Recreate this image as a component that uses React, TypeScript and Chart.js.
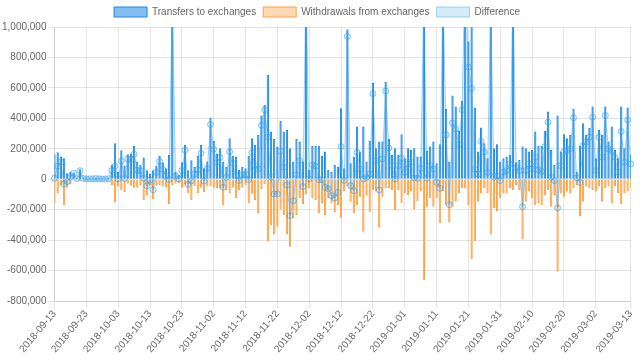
import React, { useEffect, useRef } from 'react';
import { Chart, registerables } from 'chart.js';

Chart.register(...registerables);

const START_DATE = '2018-09-13';
const DAY_COUNT = 182;
const LABEL_INDEXES = [0, 10, 20, 30, 40, 50, 60, 70, 80, 90, 100, 110, 120, 130, 140, 150, 160, 170, 181];

const transfers = [
  165000, 178000, 150000, 138000, 40000, 50000, 45000, 12000, 66000, 10000,
  6000, 8000, 5000, 9000, 6000, 7000, 5000, 8000, 95000, 237000,
  50000, 190000, 90000, 165000, 170000, 220000, 116000, 95000, 143000, 60000,
  35000, 60000, 90000, 155000, 110000, 73000, 160000, 1250000, 50000, 30000,
  112000, 226000, 60000, 125000, 80000, 155000, 226000, 73000, 116000, 405000,
  252000, 170000, 204000, 116000, 83000, 270000, 155000, 149000, 62000, 83000,
  72000, 155000, 270000, 226000, 292000, 419000, 489000, 686000, 314000, 265000,
  215000, 384000, 314000, 325000, 204000, 116000, 265000, 248000, 116000, 1400000,
  62000, 221000, 221000, 221000, 155000, 182000, 62000, 50000, 94000, 83000,
  467000, 72000, 985000, 105000, 149000, 346000, 182000, 346000, 116000, 252000,
  632000, 204000, 248000, 248000, 638000, 265000, 160000, 204000, 160000, 296000,
  138000, 204000, 193000, 204000, 149000, 149000, 1800000, 186000, 215000, 248000,
  105000, 230000, 1300000, 463000, 116000, 550000, 478000, 320000, 515000, 1500000,
  905000, 1120000, 471000, 182000, 340000, 237000, 138000, 1500000, 204000, 230000,
  116000, 138000, 149000, 160000, 1300000, 112000, 127000, 215000, 204000, 182000,
  193000, 314000, 221000, 221000, 318000, 445000, 193000, 94000, 419000, 182000,
  296000, 270000, 292000, 463000, 50000, 220000, 368000, 292000, 336000, 478000,
  138000, 325000, 292000, 478000, 248000, 346000, 193000, 138000, 478000, 204000,
  471000, 160000,
];

const withdrawals = [
  -158000, -92000, -37000, -169000, -55000, -35000, -5000, -8000, -10000, -4000,
  -3000, -5000, -2000, -4000, -3000, -5000, -3000, -4000, -37000, -151000,
  -48000, -70000, -85000, -30000, -42000, -55000, -55000, -40000, -136000, -103000,
  -40000, -129000, -45000, -38000, -45000, -52000, -162000, -38000, -30000, -28000,
  -55000, -35000, -92000, -136000, -45000, -92000, -55000, -85000, -45000, -45000,
  -55000, -60000, -60000, -169000, -70000, -90000, -50000, -125000, -70000, -55000,
  -40000, -158000, -95000, -136000, -224000, -65000, -33000, -410000, -300000, -362000,
  -311000, -200000, -235000, -362000, -443000, -257000, -235000, -125000, -164000, -100000,
  -60000, -125000, -136000, -224000, -158000, -235000, -125000, -158000, -217000, -169000,
  -252000, -80000, -46000, -147000, -224000, -169000, -114000, -344000, -103000, -217000,
  -70000, -81000, -318000, -114000, -59000, -59000, -70000, -202000, -70000, -158000,
  -92000, -103000, -81000, -195000, -143000, -77000, -663000, -180000, -125000, -180000,
  -125000, -289000, -81000, -171000, -283000, -180000, -147000, -92000, -59000, -59000,
  -169000, -524000, -406000, -147000, -92000, -59000, -92000, -360000, -190000, -208000,
  -125000, -92000, -92000, -59000, -70000, -37000, -70000, -395000, -147000, -81000,
  -125000, -169000, -158000, -169000, -103000, -70000, -180000, -103000, -607000, -92000,
  -114000, -81000, -92000, -59000, -40000, -241000, -147000, -48000, -59000, -70000,
  -81000, -48000, -147000, -59000, -48000, -158000, -48000, -92000, -164000, -92000,
  -81000, -59000,
];

const Y_MIN = -800000;
const Y_MAX = 1000000;
const Y_STEP = 200000;

function makeDateLabels(start: string, count: number): string[] {
  const out: string[] = [];
  const base = new Date(start + 'T00:00:00Z').getTime();
  for (let i = 0; i < count; i++) {
    out.push(new Date(base + i * 86400000).toISOString().slice(0, 10));
  }
  return out;
}

const FONT = "'Liberation Sans', Arial, sans-serif";
const LEGEND_FILLS = ['rgba(30,136,229,0.55)', 'rgba(255,159,64,0.4)', 'rgba(54,162,235,0.2)'];

export default function App() {
  const ref = useRef<HTMLCanvasElement | null>(null);

  useEffect(() => {
    document.body.style.margin = '0';
    const labels = makeDateLabels(START_DATE, DAY_COUNT);
    const difference = transfers.map((t, i) => t + withdrawals[i]);
    const shown = (i: number) => LABEL_INDEXES.includes(i);

    Chart.defaults.font.family = FONT;
    Chart.defaults.font.size = 10;
    Chart.defaults.color = '#666';

    const chart = new Chart(ref.current as HTMLCanvasElement, {
      type: 'bar',
      data: {
        labels,
        datasets: [
          {
            type: 'bar',
            label: 'Transfers to exchanges',
            data: transfers,
            backgroundColor: 'rgba(30,136,229,0.9)',
            borderColor: 'rgb(30,136,229)',
            borderWidth: 1,
            grouped: false,
            barPercentage: 0.9,
            categoryPercentage: 0.8,
            order: 1,
          },
          {
            type: 'bar',
            label: 'Withdrawals from exchanges',
            data: withdrawals,
            backgroundColor: 'rgba(255,159,64,0.9)',
            borderColor: 'rgb(255,159,64)',
            borderWidth: 1,
            grouped: false,
            barPercentage: 0.9,
            categoryPercentage: 0.8,
            order: 1,
          },
          {
            type: 'line',
            label: 'Difference',
            data: difference,
            backgroundColor: 'rgba(54,162,235,0.15)',
            borderColor: 'rgba(54,162,235,0.45)',
            borderWidth: 1,
            pointRadius: 3,
            pointBorderWidth: 1,
            pointBorderColor: 'rgba(54,162,235,0.6)',
            pointBackgroundColor: 'rgba(54,162,235,0.15)',
            fill: 'origin',
            tension: 0,
            order: 0,
          },
        ],
      },
      options: {
        responsive: false,
        animation: false,
        devicePixelRatio: 1,
        layout: { padding: { left: 0, right: 6, top: 0, bottom: 6 } },
        plugins: {
          legend: {
            position: 'top',
            labels: {
              boxWidth: 33,
              boxHeight: 10,
              padding: 7,
              font: { size: 10, family: FONT },
              color: '#666',
              sort: (a: any, b: any) => a.datasetIndex - b.datasetIndex,
              generateLabels: (c: any) => {
                const items = Chart.defaults.plugins.legend.labels.generateLabels(c);
                items.forEach((it: any) => {
                  it.fillStyle = LEGEND_FILLS[it.datasetIndex];
                  it.lineWidth = 1;
                });
                return items;
              },
            },
          },
          tooltip: { enabled: false },
        },
        scales: {
          x: {
            offset: false,
            grid: {
              offset: false,
              color: (ctx: any) => (shown(ctx.index) ? 'rgba(0,0,0,0.1)' : 'rgba(0,0,0,0)'),
              tickLength: 7,
            },
            ticks: {
              autoSkip: false,
              maxRotation: 50,
              minRotation: 50,
              padding: 0,
              font: { size: 10, family: FONT },
              color: '#666',
              callback: (value: any, index: number) => (shown(index) ? labels[index] : ''),
            },
          },
          y: {
            min: Y_MIN,
            max: Y_MAX,
            grid: { color: 'rgba(0,0,0,0.1)', tickLength: 6 },
            ticks: {
              stepSize: Y_STEP,
              padding: 2,
              font: { size: 10, family: FONT },
              color: '#666',
            },
          },
        },
      },
    });
    return () => chart.destroy();
  }, []);

  return (
    <div style={{ width: 640, height: 361 }}>
      <canvas ref={ref} width={640} height={361} style={{ display: 'block' }} />
    </div>
  );
}
